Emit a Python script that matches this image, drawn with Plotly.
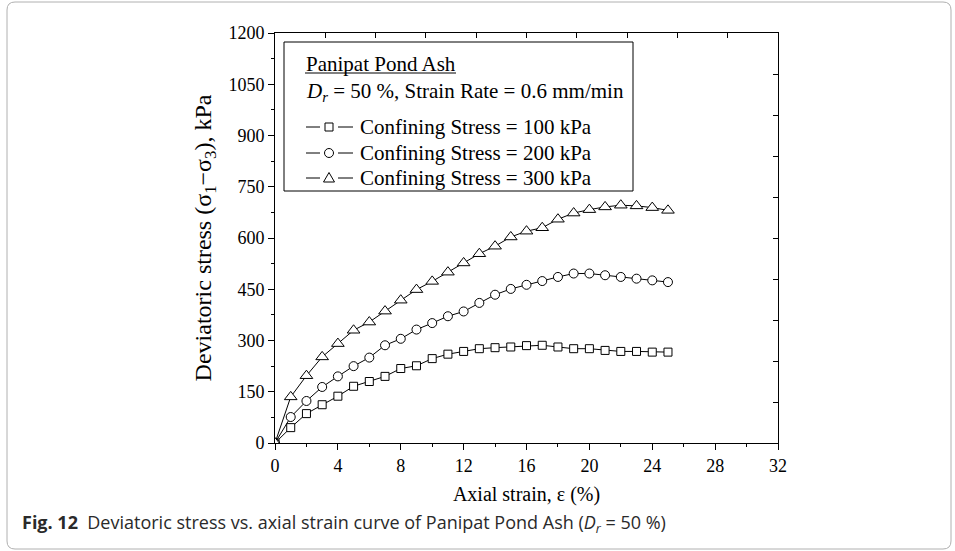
import plotly.graph_objects as go

# ---------------- data ----------------
strain = list(range(0, 26))
stress_100 = [0, 45, 86, 112, 137, 166, 180, 195, 218, 226, 247, 260, 268, 276, 279, 281,
              285, 286, 281, 276, 276, 271, 268, 268, 266, 266]
stress_200 = [0, 76, 123, 164, 195, 225, 250, 286, 305, 332, 351, 371, 385, 410, 434, 451,
              463, 474, 486, 496, 496, 491, 486, 481, 476, 471]
stress_300 = [0, 135, 197, 252, 291, 330, 354, 386, 418, 449, 473, 500, 527, 554, 576, 603,
              620, 630, 655, 673, 683, 691, 696, 694, 689, 681]
series_names = ["Confining Stress = 100 kPa", "Confining Stress = 200 kPa", "Confining Stress = 300 kPa"]
x_ticks = [0, 4, 8, 12, 16, 20, 24, 28, 32]
y_ticks = [0, 150, 300, 450, 600, 750, 900, 1050, 1200]

# ---------------- layout geometry ----------------
W, H = 955, 551
L, R, T, B = 275, 778, 33, 443
PW, PH = R - L, B - T
SERIF = "Liberation Serif, Times New Roman, serif"


def px(xp):
    return (xp - L) / PW


def py(yp):
    return (B - yp) / PH


fig = go.Figure()
symbols = ["square", "circle", "triangle-up"]
sizes = [8, 9, 11]
for name, ys, sym, sz in zip(series_names, [stress_100, stress_200, stress_300], symbols, sizes):
    fig.add_trace(go.Scatter(
        x=strain, y=ys, name=name, mode="lines+markers", showlegend=False,
        line=dict(color="black", width=1),
        marker=dict(symbol=sym, size=sz, color="white", line=dict(color="black", width=1)),
    ))

# invisible trace to activate the mirrored top/right axes
fig.add_trace(go.Scatter(x=[0], y=[0], xaxis="x2", yaxis="y2", mode="markers",
                         marker=dict(opacity=0), showlegend=False, hoverinfo="skip"))

axis_common = dict(showgrid=False, zeroline=False, showline=True, linecolor="black",
                   linewidth=1, tickcolor="black", tickwidth=1)

fig.update_layout(
    width=W, height=H,
    margin=dict(l=L, r=W - R, t=T, b=H - B),
    paper_bgcolor="white", plot_bgcolor="white",
    font=dict(family=SERIF, size=18, color="black"),
    showlegend=False,
    xaxis=dict(range=[0, 32], tickvals=x_ticks, ticks="outside", ticklen=6,
               minor=dict(dtick=2, tick0=0, ticks="outside", ticklen=3, tickcolor="black"),
               title=dict(text="Axial strain, ε (%)", font=dict(size=20), standoff=12),
               tickfont=dict(size=18), **axis_common),
    yaxis=dict(range=[0, 1200], tickvals=y_ticks, ticks="outside", ticklen=6,
               minor=dict(dtick=75, tick0=0, ticks="outside", ticklen=3, tickcolor="black"),
               title=dict(text="Deviatoric stress (σ<sub>1</sub>−σ<sub>3</sub>), kPa",
                          font=dict(size=24), standoff=10),
               tickfont=dict(size=18), **axis_common),
    xaxis2=dict(range=[0, 32], overlaying="x", side="top", dtick=3.2, tick0=0,
                ticks="inside", ticklen=5, showticklabels=False, **axis_common),
    yaxis2=dict(range=[0, 1200], overlaying="y", side="right", dtick=120, tick0=0,
                ticks="inside", ticklen=5, showticklabels=False, **axis_common),
)

# ---------------- hand-built legend box ----------------
LEG_FONT = dict(family=SERIF, size=21, color="black")
fig.add_shape(type="rect", xref="paper", yref="paper",
              x0=px(284), x1=px(633), y0=py(42), y1=py(191),
              line=dict(color="black", width=1), fillcolor="white")
fig.add_annotation(xref="paper", yref="paper", x=px(304), y=py(64), xanchor="left",
                   yanchor="middle", showarrow=False, text="Panipat Pond Ash", font=LEG_FONT)
fig.add_shape(type="line", xref="paper", yref="paper", x0=px(305), x1=px(456),
              y0=py(73), y1=py(73), line=dict(color="black", width=1))
fig.add_annotation(xref="paper", yref="paper", x=px(304), y=py(92), xanchor="left",
                   yanchor="middle", showarrow=False,
                   text="<i>D<sub>r</sub></i> = 50 %, Strain Rate = 0.6 mm/min", font=LEG_FONT)

row_y = [127, 153, 178]
cx = 329
for i, (name, yy) in enumerate(zip(series_names, row_y)):
    for a, b in [(306, 320), (338, 353)]:
        fig.add_shape(type="line", xref="paper", yref="paper", x0=px(a), x1=px(b),
                      y0=py(yy), y1=py(yy), line=dict(color="black", width=1))
    if i == 0:
        fig.add_shape(type="rect", xref="paper", yref="paper", x0=px(cx - 4), x1=px(cx + 4),
                      y0=py(yy - 4), y1=py(yy + 4), line=dict(color="black", width=1))
    elif i == 1:
        fig.add_shape(type="circle", xref="paper", yref="paper", x0=px(cx - 4.5),
                      x1=px(cx + 4.5), y0=py(yy - 4.5), y1=py(yy + 4.5),
                      line=dict(color="black", width=1))
    else:
        tri = (f"M {px(cx - 5.5)} {py(yy + 4)} L {px(cx + 5.5)} {py(yy + 4)} "
               f"L {px(cx)} {py(yy - 5.5)} Z")
        fig.add_shape(type="path", xref="paper", yref="paper", path=tri,
                      line=dict(color="black", width=1))
    fig.add_annotation(xref="paper", yref="paper", x=px(358), y=py(yy), xanchor="left",
                       yanchor="middle", showarrow=False, text=name, font=LEG_FONT)

# caption
fig.add_annotation(
    xref="paper", yref="paper", x=px(20), y=py(523), xanchor="left", yanchor="middle",
    text="<b>Fig. 12</b>  Deviatoric stress vs. axial strain curve of Panipat Pond Ash "
         "(<i>D<sub>r</sub></i> = 50 %)",
    showarrow=False, font=dict(family="Open Sans, Lato, sans-serif", size=18, color="#2a2a2a"),
)

# rounded outer frame
x0, x1, y0, y1, r = px(7), px(951), py(2), py(549), 8
rx, ry = r / PW, r / PH
path = (f"M {x0 + rx} {y0} L {x1 - rx} {y0} Q {x1} {y0} {x1} {y0 - ry} "
        f"L {x1} {y1 + ry} Q {x1} {y1} {x1 - rx} {y1} "
        f"L {x0 + rx} {y1} Q {x0} {y1} {x0} {y1 + ry} "
        f"L {x0} {y0 - ry} Q {x0} {y0} {x0 + rx} {y0} Z")
fig.add_shape(type="path", path=path, xref="paper", yref="paper",
              line=dict(color="#b0b0b0", width=1), layer="below")

fig.write_html("out.html")
